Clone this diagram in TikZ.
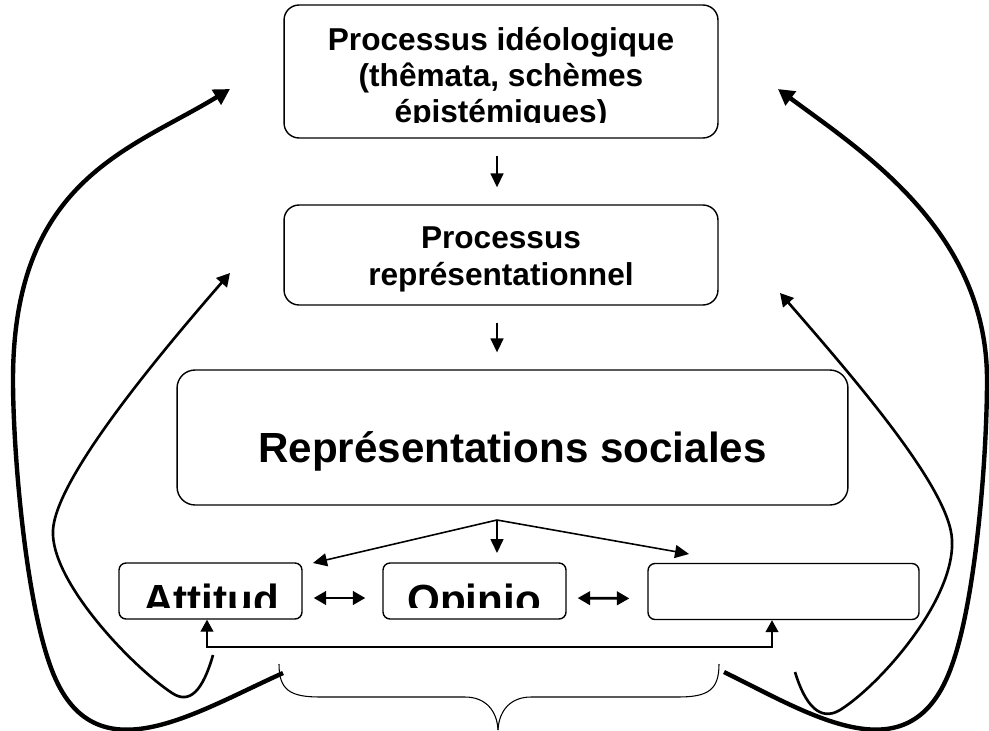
\documentclass[tikz,border=0pt]{standalone}
\usepackage{fontspec}
\setmainfont{Liberation Sans}
\usetikzlibrary{arrows.meta,calc,positioning}

\begin{document}
\begin{tikzpicture}[x=0.02cm,y=-0.02cm,
  procbox/.style={draw,line width=0.8pt,inner sep=0pt},
  lbl/.style={inner sep=0pt,align=center,font=\bfseries\fontsize{18}{20.3}\selectfont},
  biglbl/.style={inner sep=0pt,font=\bfseries\fontsize{24}{28}\selectfont},
  flow/.style={line width=0.9pt,-{Triangle[length=2.8mm,width=2.6mm]}},
  both/.style={line width=1.6pt,{Triangle[length=2.5mm,width=2.7mm]}-{Triangle[length=2.5mm,width=2.7mm]}},
  link/.style={line width=0.7pt,{Triangle[length=2.4mm,width=2.6mm]}-{Triangle[length=2.4mm,width=2.6mm]}},
  outer/.style={line width=2.5pt,-{Triangle[length=3.2mm,width=3.4mm]}},
  inner/.style={line width=1.5pt,-{Triangle[length=2.6mm,width=2.8mm]}}]
\useasboundingbox (0,0) rectangle (989,730);
\node[procbox,rounded corners=0.3cm,minimum width=8.68cm,minimum height=2.66cm] (ideo) at (501,71.5) {};
\node[procbox,rounded corners=0.3cm,minimum width=8.68cm,minimum height=2cm] (repr) at (501,255) {};
\node[procbox,rounded corners=0.36cm,minimum width=13.42cm,minimum height=2.7cm] (rs) at (512.5,437.5) {};
\node[procbox,rounded corners=0.14cm,minimum width=3.66cm,minimum height=1.12cm] (att) at (210.5,591) {};
\node[procbox,rounded corners=0.14cm,minimum width=3.66cm,minimum height=1.12cm] (opi) at (474.5,591) {};
\node[procbox,rounded corners=0.14cm,minimum width=5.42cm,minimum height=1.12cm] (stereo) at (783.5,591.5) {};
\begin{scope}
\clip (284,5) rectangle (718,122.5);
\node[lbl,anchor=base] (ideotxt) at (501,122) {Processus idéologique\\(thêmata, schèmes\\épistémiques)};
\end{scope}
\node[lbl,anchor=base,font=\bfseries\fontsize{18}{21}\selectfont] (reprtxt) at (501,285) {Processus\\représentationnel};
\node[biglbl,anchor=base] (rstxt) at (512.5,462) {Représentations sociales};
\begin{scope}
\clip (119,563) rectangle (302,607);
\node[biglbl,anchor=base] (atttxt) at (211,614) {Attitud};
\end{scope}
\begin{scope}
\clip (383,563) rectangle (566,607);
\node[biglbl,anchor=base] (opitxt) at (474,614) {Opinio};
\end{scope}
\draw[flow,shorten <=0.34cm,shorten >=0.34cm] ([xshift=-0.08cm]ideo.south) -- ([xshift=-0.08cm]repr.north);
\draw[flow,shorten <=0.34cm,shorten >=0.34cm] ([xshift=-0.08cm]repr.south) -- ([xshift=-0.08cm]repr.south |- rs.north);
\coordinate (fork) at (497,520);
\coordinate (tipL) at (313,563);
\coordinate (tipM) at (497,553);
\coordinate (tipR) at (689,554);
\draw[flow] (fork) -- (tipL);
\draw[flow] (fork) -- (tipM);
\draw[flow] (fork) -- (tipR);
\draw[both,shorten <=0.22cm,shorten >=0.34cm] ([yshift=-0.14cm]att.east) -- ([yshift=-0.14cm]opi.west);
\draw[both,shorten <=0.22cm,shorten >=0.36cm] ([yshift=-0.14cm]opi.east) -- ([yshift=-0.14cm]stereo.west);
\coordinate (linkL) at (207,647);
\coordinate (linkR) at (772,647);
\draw[link] (att.south -| linkL) -- (linkL) -- (linkR) -- (stereo.south -| linkR);
\coordinate (braceL) at (279,664);
\coordinate (braceR) at (719,664);
\coordinate (braceTip) at (498,730);
\draw[line width=0.6pt] (braceL) .. controls (279,690) and (290,697) .. (320,697) -- (465,697) .. controls (485,697) and (497,710) .. (braceTip);
\draw[line width=0.6pt] (braceR) .. controls (719,690) and (708,697) .. (678,697) -- (531,697) .. controls (511,697) and (499,710) .. (braceTip);
\coordinate (loopL) at (283,673);
\coordinate (loopR) at (724,672);
\coordinate (ideoL) at (230,89);
\coordinate (ideoR) at (778,89);
\draw[outer] (loopL) .. controls (190,715) and (90,780) .. (50,665) .. controls (25,595) and (13,450) .. (13,380) .. controls (13,180) and (130,150) .. (ideoL);
\draw[outer] (loopR) .. controls (812,715) and (912,780) .. (952,665) .. controls (977,595) and (987,450) .. (987,380) .. controls (987,230) and (860,150) .. (ideoR);
\coordinate (backL) at (213,655);
\coordinate (backR) at (795,672);
\coordinate (reprL) at (230,273);
\coordinate (reprR) at (780,293);
\draw[inner] (backL) .. controls (203,690) and (190,705) .. (172,693) .. controls (130,665) and (50,580) .. (53,530) .. controls (56,480) and (150,365) .. (reprL);
\draw[inner] (backR) .. controls (805,705) and (820,722) .. (840,710) .. controls (880,685) and (955,600) .. (952,540) .. controls (950,490) and (860,385) .. (reprR);
\end{tikzpicture}
\end{document}
